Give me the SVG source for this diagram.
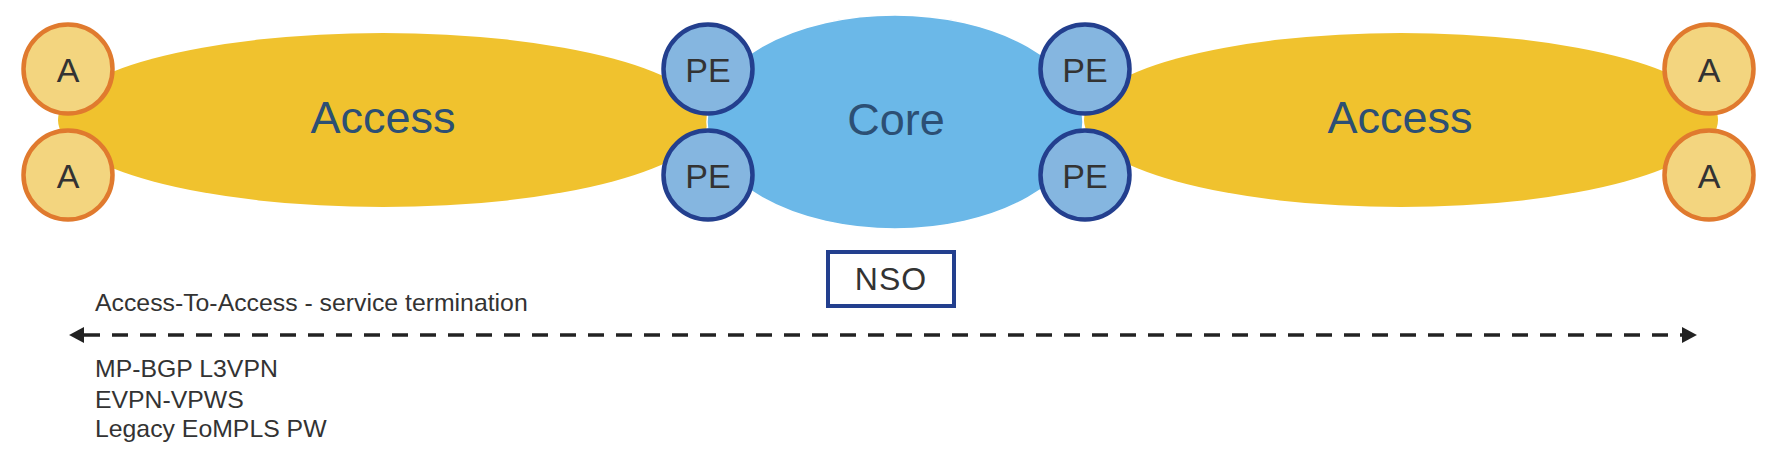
<svg xmlns="http://www.w3.org/2000/svg" width="1781" height="456" viewBox="0 0 1781 456">
<style>
.access{fill:#F0C22E;}
.core{fill:#6BB8E8;stroke:#ffffff;stroke-width:1.5;}
.region-label{font-family:"Liberation Sans",Arial,sans-serif;font-size:45px;fill:#2C4F74;text-anchor:middle;}
.a-node{fill:#F3D57F;stroke:#E07A2E;stroke-width:4.5;}
.pe-node{fill:#85B6E0;stroke:#233F8E;stroke-width:4.5;}
.node-label{font-family:"Liberation Sans",Arial,sans-serif;font-size:34px;fill:#333333;text-anchor:middle;}
.nso-box{fill:#ffffff;stroke:#233F8E;stroke-width:4;}
.nso-label{font-family:"Liberation Sans",Arial,sans-serif;font-size:32px;fill:#333333;text-anchor:middle;letter-spacing:1px;}
.note{font-family:"Liberation Sans",Arial,sans-serif;font-size:24.8px;fill:#333333;}
.dash{fill:none;stroke:#222222;stroke-width:3.5;stroke-dasharray:16 12;}
</style>
<defs>
<marker id="arrow" markerUnits="userSpaceOnUse" markerWidth="16" markerHeight="16" viewBox="0 0 14 15" refX="0" refY="7.5" orient="auto-start-reverse">
<path d="M0,0 L14,7.5 L0,15 z" fill="#222222"/>
</marker>
</defs>

<g id="access-left">
<ellipse class="access" cx="383" cy="120" rx="325" ry="87"/>
<text class="region-label" x="383" y="133">Access</text>
</g>
<g id="access-right">
<ellipse class="access" cx="1401" cy="120" rx="317" ry="87"/>
<text class="region-label" x="1400" y="133">Access</text>
</g>
<g id="core">
<ellipse class="core" cx="895" cy="122" rx="188" ry="107"/>
<text class="region-label" x="896" y="135">Core</text>
</g>

<g id="a-left-top">
<circle class="a-node" cx="68" cy="69" r="44.5"/>
<text class="node-label" x="68" y="82">A</text>
</g>
<g id="a-left-bottom">
<circle class="a-node" cx="68" cy="175" r="44.5"/>
<text class="node-label" x="68" y="188">A</text>
</g>
<g id="pe-left-top">
<circle class="pe-node" cx="708" cy="69" r="44.5"/>
<text class="node-label" x="708" y="82">PE</text>
</g>
<g id="pe-left-bottom">
<circle class="pe-node" cx="708" cy="175" r="44.5"/>
<text class="node-label" x="708" y="188">PE</text>
</g>
<g id="pe-right-top">
<circle class="pe-node" cx="1085" cy="69" r="44.5"/>
<text class="node-label" x="1085" y="82">PE</text>
</g>
<g id="pe-right-bottom">
<circle class="pe-node" cx="1085" cy="175" r="44.5"/>
<text class="node-label" x="1085" y="188">PE</text>
</g>
<g id="a-right-top">
<circle class="a-node" cx="1709" cy="69" r="44.5"/>
<text class="node-label" x="1709" y="82">A</text>
</g>
<g id="a-right-bottom">
<circle class="a-node" cx="1709" cy="175" r="44.5"/>
<text class="node-label" x="1709" y="188">A</text>
</g>

<g id="nso">
<rect class="nso-box" x="828" y="252" width="126" height="54"/>
<text class="nso-label" x="891" y="290">NSO</text>
</g>

<g id="connectors">
<path class="dash" d="M84,335 L1682,335" marker-start="url(#arrow)" marker-end="url(#arrow)"/>
</g>

<g id="notes">
<text class="note" x="95" y="311">Access-To-Access - service termination</text>
<text class="note" x="95" y="377">MP-BGP L3VPN</text>
<text class="note" x="95" y="408">EVPN-VPWS</text>
<text class="note" x="95" y="437">Legacy EoMPLS PW</text>
</g>
</svg>
